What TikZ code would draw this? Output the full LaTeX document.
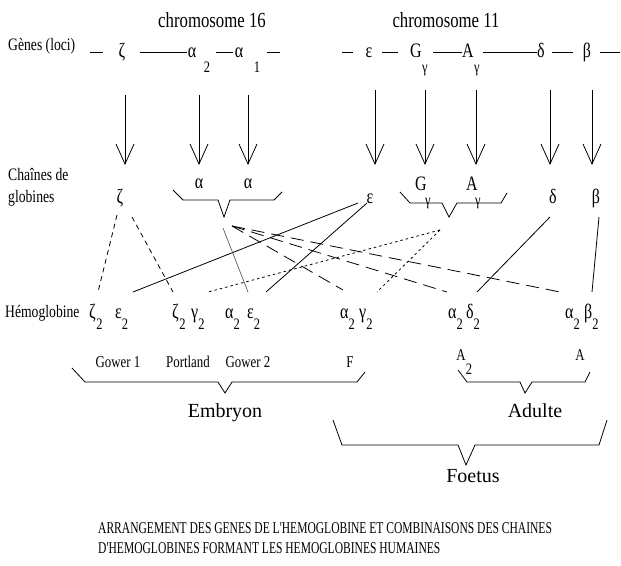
\documentclass[tikz,border=0pt]{standalone}
\usepackage{fontspec}
\setmainfont{Liberation Serif}
\newfontfamily\nf[FakeStretch=0.78]{Liberation Serif}
\newfontfamily\cf[FakeStretch=0.70]{Liberation Serif}
\usetikzlibrary{arrows.meta}
\newcommand\subtwo{\lower11pt\hbox{\nf\fontsize{16}{16}\selectfont 2}}
\begin{document}
\begin{tikzpicture}[x=1pt,y=-1pt,
  lab/.style={font=\nf\fontsize{17.5}{20}\selectfont, inner sep=0pt, anchor=base west},
  chrom/.style={font=\nf\fontsize{21.5}{24}\selectfont, inner sep=0pt, anchor=base},
  big/.style={font=\fontsize{20}{24}\selectfont, inner sep=0pt, anchor=base},
  gl/.style={font=\nf\fontsize{20.5}{22}\selectfont, inner sep=0pt, anchor=base},
  sb/.style={font=\nf\fontsize{16}{16}\selectfont, inner sep=0pt, anchor=base},
  hb/.style={font=\nf\fontsize{20.5}{22}\selectfont, inner sep=0pt, anchor=base west},
  nm/.style={font=\nf\fontsize{16.5}{20}\selectfont, inner sep=0pt, anchor=base},
  captext/.style={font=\cf\fontsize{16.5}{20}\selectfont, inner sep=0pt, anchor=base west},
  ln/.style={line width=0.8pt},
  arr/.style={ln, -{Straight Barb[length=20pt,width=18pt]}},
  fine/.style={ln, dash pattern=on 5pt off 4pt},
  longd/.style={ln, dash pattern=on 13pt off 7pt},
  dotd/.style={ln, dash pattern=on 2.5pt off 3pt},
]
\fill[white] (0,0) rectangle (621,565);
\useasboundingbox (0,0) rectangle (621,565);

% titles
\node[chrom] (t16) at (212,27) {chromosome 16};
\node[chrom] (t11) at (446,27) {chromosome 11};

% row labels
\node[lab] (lgenes) at (8,50) {Gènes (loci)};
\node[lab] (lch1) at (8,180) {Chaînes de};
\node[lab] (lch2) at (8,202) {globines};
\node[lab] (lhem) at (5,317) {Hémoglobine};

% gene row
\node[gl] (gzeta) at (122,57) {ζ};
\node[gl] (ga2) at (192,57) {α}; \node[sb] (ga2s) at (207,72) {2};
\node[gl] (ga1) at (239,57) {α}; \node[sb] (ga1s) at (257,72) {1};
\node[gl] (geps) at (369,57) {ε};
\node[gl] (gG) at (416,57) {G}; \node[sb] (gGs) at (425,72) {γ};
\node[gl] (gA) at (468,57) {A}; \node[sb] (gAs) at (477,72) {γ};
\node[gl] (gd) at (541,57) {δ};
\node[gl] (gb) at (587,57) {β};
\foreach \a/\b in {90/103,140/187,216/233,267/280,342/353,382/398,433/462,483/537,552/573,600/620}
  \draw[ln] (\a,52) -- (\b,52);

% arrows
\foreach \n/\x/\y in {a/125/95,b/199/95,c/248/95,d/375/90,e/425/90,f/476/90,g/550/90,h/592/90}{
  \coordinate (top\n) at (\x,\y);
  \coordinate (bot\n) at (\x,165);
  \draw[arr] (top\n) -- (bot\n);
}

% chains
\node[gl] (czeta) at (120,203) {ζ};
\node[gl] (ca1) at (199,188) {α};
\node[gl] (ca2) at (248,188) {α};
\node[gl] (ceps) at (370,203) {ε};
\node[gl] (cG) at (421,190) {G}; \node[sb] (cGs) at (428,205) {γ};
\node[gl] (cA) at (472,190) {A}; \node[sb] (cAs) at (478,205) {γ};
\node[gl] (cd) at (553,203) {δ};
\node[gl] (cb) at (596,203) {β};
\draw[ln] (173,190) -- (183,200) -- (218,200) -- (224,217) -- (230,200) -- (274,200) -- (282,192);
\draw[ln] (400,192) -- (410,203) -- (442,203) -- (449,217) -- (457,203) -- (501,203) -- (507,193);

% hemoglobins
\node[hb] (z1) at (89,318) {ζ\kern0.5pt\subtwo};
\node[hb] (e1) at (115,318) {ε\subtwo};
\node[hb] (z2) at (172,318) {ζ\kern0.5pt\subtwo};
\node[hb] (g2) at (191,318) {γ\subtwo};
\node[hb] (a3) at (225,318) {α\subtwo};
\node[hb] (e3) at (247,318) {ε\subtwo};
\node[hb] (a4) at (340,318) {α\subtwo};
\node[hb] (g4) at (359,318) {γ\subtwo};
\node[hb] (a5) at (448,318) {α\subtwo};
\node[hb] (d5) at (466,318) {δ\subtwo};
\node[hb] (a6) at (565,318) {α\subtwo};
\node[hb] (b6) at (584,318) {β\subtwo};

% names
\node[nm] (n1) at (118,367) {Gower 1};
\node[nm] (n2) at (188,367) {Portland};
\node[nm] (n3) at (248,367) {Gower 2};
\node[nm] (n4) at (350,367) {F};
\node[nm] (n5) at (461,360) {A}; \node[sb] (n5s) at (469,374) {2};
\node[nm] (n6) at (580,360) {A};

% braces
\draw[ln] (72,368) -- (85,382) -- (218,382) -- (225,393) -- (232,382) -- (357,382) -- (365,372);
\draw[ln] (458,370) -- (467,382) -- (520,382) -- (525,393) -- (532,382) -- (585,382) -- (590,372);
\draw[ln] (333,420) -- (342,445) -- (458,445) -- (466,465) -- (475,445) -- (599,445) -- (607,420);
\node[big] (emb) at (225,417) {Embryon};
\node[big] (adu) at (535,417) {Adulte};
\node[big] (foe) at (473,482) {Foetus};

% connectors
\coordinate (zA) at (117,215); \coordinate (zB) at (132,217);
\coordinate (z1t) at (98,292); \coordinate (z2t) at (173,292);
\coordinate (eA) at (358,203); \coordinate (eB) at (367,203);
\coordinate (e1t) at (133,292); \coordinate (e3t) at (266,292);
\coordinate (aT) at (223,228); \coordinate (a3t) at (248,292);
\coordinate (aD) at (232,226);
\coordinate (a4t) at (343,290); \coordinate (a5t) at (447,292); \coordinate (a6t) at (560,292);
\coordinate (gT) at (440,230); \coordinate (g2t) at (208,292); \coordinate (g4t) at (377,292);
\coordinate (dT) at (550,217); \coordinate (d5t) at (477,292);
\coordinate (bT) at (599,217); \coordinate (b6t) at (592,292);

\draw[fine] (zA) -- (z1t);
\draw[fine] (zB) -- (z2t);
\draw[ln] (eA) -- (e1t);
\draw[ln] (eB) -- (e3t);
\draw[line width=0.6pt, black!70] (aT) -- (a3t);
\draw[longd] (aD) -- (a4t);
\draw[longd] (aD) -- (a5t);
\draw[longd] (aD) -- (a6t);
\draw[dotd] (gT) -- (g2t);
\draw[dotd] (gT) -- (g4t);
\draw[ln] (dT) -- (d5t);
\draw[ln] (bT) -- (b6t);

% caption
\node[captext] (cap1) at (98,533) {ARRANGEMENT DES GENES DE L'HEMOGLOBINE ET COMBINAISONS DES CHAINES};
\node[captext] (cap2) at (98,553) {D'HEMOGLOBINES FORMANT LES HEMOGLOBINES HUMAINES};
\end{tikzpicture}
\end{document}
